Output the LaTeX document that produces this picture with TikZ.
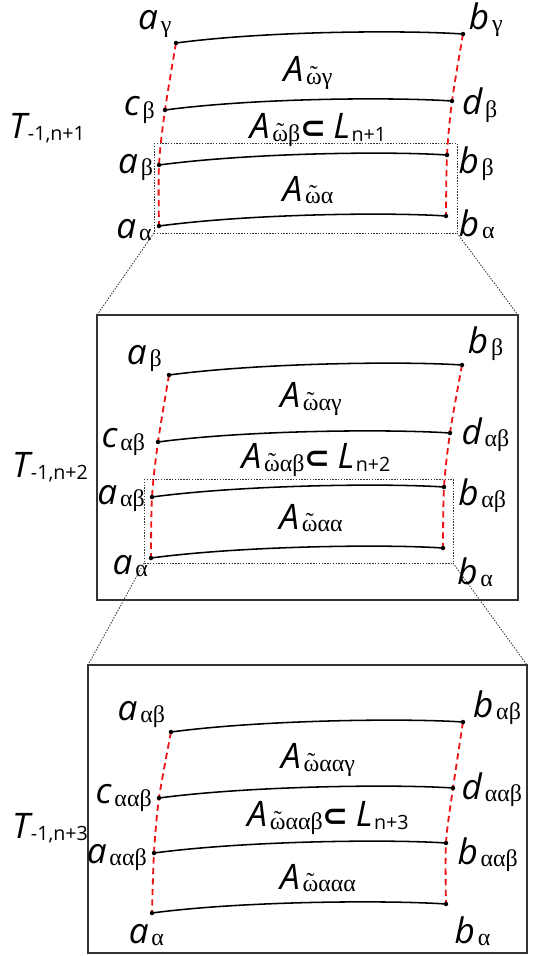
\documentclass[tikz,border=0pt]{standalone}
\usepackage{fontspec}
\setmainfont{Open Sans}
\newfontfamily\grkfont{Liberation Serif}
\newfontfamily\symfont{DejaVu Sans}
\usetikzlibrary{positioning, calc}
\definecolor{siderred}{RGB}{235, 20, 20}

% subscripts and symbols
\newcommand{\gsub}[1]{\hspace{2pt}\raisebox{-1.5pt}{\upshape\grkfont\fontsize{17}{19}\selectfont #1}}
\newcommand{\nsub}[1]{\hspace{1pt}\raisebox{-1.5pt}{\upshape\fontsize{14}{16}\selectfont #1}}
\newcommand{\subs}{{\upshape\symfont\bfseries\fontsize{22}{22}\selectfont ⊂}\hspace{5pt}}
\newcommand{\wt}{\ooalign{ω\cr\hidewidth\raisebox{0.08em}{\char"02DC}\hidewidth\cr}}

\begin{document}
\begin{tikzpicture}[
    x=0.025cm, y=-0.025cm,
    lbl/.style={font=\fontsize{25}{28}\selectfont\itshape, inner sep=0pt},
    area/.style={font=\fontsize{25}{28}\selectfont\itshape, inner sep=0pt},
    arc/.style={line width=1.1pt, black},
    side/.style={line width=1.3pt, siderred, dash pattern=on 4.5pt off 3pt},
    frame/.style={line width=1pt, black!80},
    zoomrect/.style={line width=0.6pt, black!80, dash pattern=on 1pt off 1pt},
    guide/.style={line width=0.6pt, black!80, dash pattern=on 1pt off 1pt},
]
    \useasboundingbox (0,0) rectangle (533,956);

    % Level n+1
    \coordinate (tl1) at (176,43);  \coordinate (tr1) at (463,34);
    \coordinate (ml1) at (165,110); \coordinate (mr1) at (452,101);
    \coordinate (il1) at (159,165); \coordinate (ir1) at (447,155);
    \coordinate (bl1) at (159,226); \coordinate (br1) at (446,216);
    \coordinate (z1a) at (154,143); \coordinate (z1b) at (457,233);

    % Level n+2
    \coordinate (f2a) at (97,315);  \coordinate (f2b) at (518,600);
    \coordinate (tl2) at (169,375); \coordinate (tr2) at (462,365);
    \coordinate (ml2) at (158,442); \coordinate (mr2) at (450,433);
    \coordinate (il2) at (152,497); \coordinate (ir2) at (444,487);
    \coordinate (bl2) at (151,558); \coordinate (br2) at (443,548);
    \coordinate (z2a) at (144,479); \coordinate (z2b) at (453,563);

    % Level n+3
    \coordinate (f3a) at (88,665);  \coordinate (f3b) at (527,953);
    \coordinate (tl3) at (171,732); \coordinate (tr3) at (463,722);
    \coordinate (ml3) at (159,798); \coordinate (mr3) at (453,788);
    \coordinate (il3) at (154,853); \coordinate (ir3) at (446,843);
    \coordinate (bl3) at (152,913); \coordinate (br3) at (446,904);

    % Frames and zoom guides
    \draw[frame] (f2a) rectangle (f2b);
    \draw[frame] (f3a) rectangle (f3b);
    \draw[zoomrect] (z1a) rectangle (z1b);
    \draw[zoomrect] (z2a) rectangle (z2b);
    \draw[guide] (z1a |- z1b) -- (f2a);
    \draw[guide] (z1b) -- (f2a -| f2b);
    \draw[guide] (z2a |- z2b) -- (f3a);
    \draw[guide] (z2b) -- (f3a -| f3b);

    % Arcs, sides and end points
    \foreach \k in {1,2,3} {
      \draw[side] plot[smooth] coordinates {(tl\k) (ml\k) (il\k) (bl\k)};
      \draw[side] plot[smooth] coordinates {(tr\k) (mr\k) (ir\k) (br\k)};
      \foreach \r in {t,m,i,b} {
        \draw[arc] (\r l\k) .. controls +(90,-12) and +(-60,-4) .. (\r r\k);
        \fill (\r l\k) circle (1.6pt);
        \fill (\r r\k) circle (1.6pt);
      }
    }

    % Labels, level n+1
    \node[lbl, above left=4pt and 3pt of tl1] (ltl1) {a\gsub{γ}};
    \node[lbl, above right=-2pt and 4pt of tr1] (ltr1) {b\gsub{γ}};
    \node[lbl, left=7pt of ml1] (lml1) {c\gsub{β}};
    \node[lbl, right=7pt of mr1, yshift=-3pt] (lmr1) {d\gsub{β}};
    \node[lbl, left=4pt of il1, yshift=-2pt] (lil1) {a\gsub{β}};
    \node[lbl, right=8pt of ir1, yshift=-6pt] (lir1) {b\gsub{β}};
    \node[lbl, left=5pt of bl1, yshift=-3pt] (lbl1) {a\gsub{α}};
    \node[lbl, right=9pt of br1, yshift=-6pt] (lbr1) {b\gsub{α}};
    \node[area] (A1g) at (308,73) {A\gsub{\wt γ}};
    \node[area] (A1b) at (318,130) {A\gsub{\wt β}\subs L\nsub{n+1}};
    \node[area] (A1a) at (308,190) {A\gsub{\wt α}};
    \node[area] (T1) at (47,128) {T\nsub{-1,n+1}};

    % Labels, level n+2
    \node[lbl, above left=2pt and 5pt of tl2] (ltl2) {a\gsub{β}};
    \node[lbl, above right=3pt and 4pt of tr2] (ltr2) {b\gsub{β}};
    \node[lbl, left=9pt of ml2] (lml2) {c\gsub{αβ}};
    \node[lbl, right=8pt of mr2, yshift=-1pt] (lmr2) {d\gsub{αβ}};
    \node[lbl, left=5pt of il2, yshift=-1pt] (lil2) {a\gsub{αβ}};
    \node[lbl, right=10pt of ir2, yshift=-6pt] (lir2) {b\gsub{αβ}};
    \node[lbl, below left=-2pt and 2pt of bl2] (lbl2) {a\gsub{α}};
    \node[lbl, below right=7pt and 10pt of br2] (lbr2) {b\gsub{α}};
    \node[area] (A2g) at (311,399) {A\gsub{\wt αγ}};
    \node[area] (A2b) at (316,460) {A\gsub{\wt αβ}\subs L\nsub{n+2}};
    \node[area] (A2a) at (311,518) {A\gsub{\wt αα}};
    \node[area] (T2) at (50,467) {T\nsub{-1,n+2}};

    % Labels, level n+3
    \node[lbl, above left=3pt and 4pt of tl3] (ltl3) {a\gsub{αβ}};
    \node[lbl, above right=-2pt and 7pt of tr3] (ltr3) {b\gsub{αβ}};
    \node[lbl, left=5pt of ml3] (lml3) {c\gsub{ααβ}};
    \node[lbl, right=6pt of mr3, yshift=-1pt] (lmr3) {d\gsub{ααβ}};
    \node[lbl, left=5pt of il3, yshift=-3pt] (lil3) {a\gsub{ααβ}};
    \node[lbl, right=8pt of ir3, yshift=-8pt] (lir3) {b\gsub{ααβ}};
    \node[lbl, below=8pt of bl3, xshift=-4pt] (lbl3) {a\gsub{α}};
    \node[lbl, below right=9pt and 6pt of br3] (lbr3) {b\gsub{α}};
    \node[area] (A3g) at (318,760) {A\gsub{\wt ααγ}};
    \node[area] (A3b) at (328,818) {A\gsub{\wt ααβ}\subs L\nsub{n+3}};
    \node[area] (A3a) at (318,878) {A\gsub{\wt ααα}};
    \node[area] (T3) at (50,828) {T\nsub{-1,n+3}};
\end{tikzpicture}
\end{document}
